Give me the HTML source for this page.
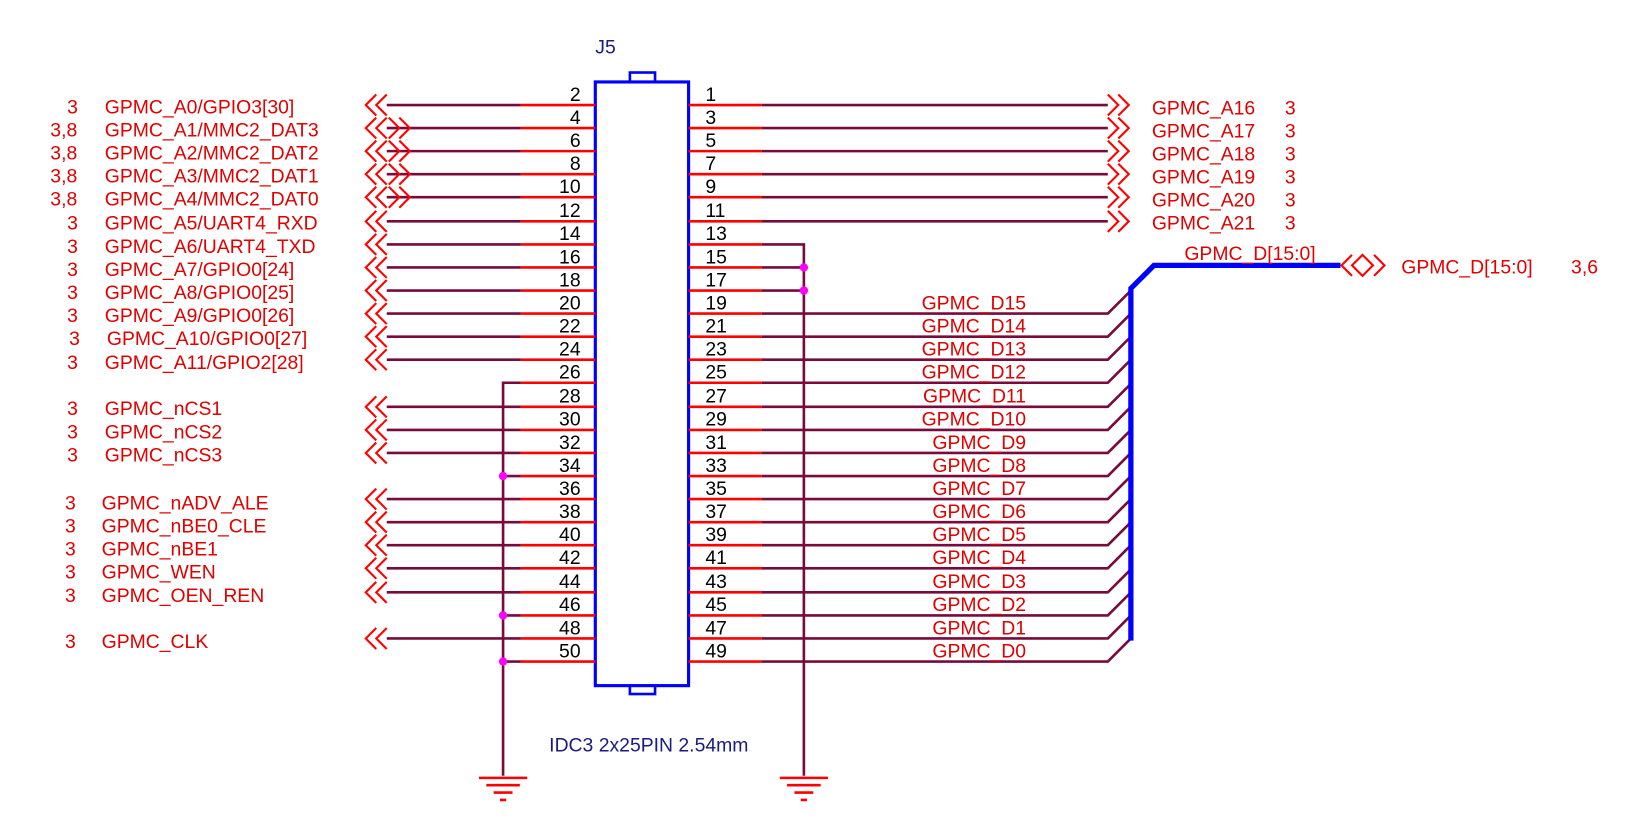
<!DOCTYPE html>
<html><head><meta charset="utf-8"><style>
html,body{margin:0;padding:0;background:#fff;}
svg{display:block;}
text{font-family:"Liberation Sans",Arial,sans-serif;font-size:18.5px;}
.r{fill:#e00000}.k{fill:#000}.b{fill:#1a1a80}
</style></head><body>
<svg width="1635" height="820" viewBox="3 0 1560 782" xmlns="http://www.w3.org/2000/svg">
<rect x="0" width="1570" height="782" fill="#fff"/>
<!-- box -->
<rect x="571" y="78" width="89" height="576" fill="none" stroke="#0000ff" stroke-width="3"/>
<rect x="604" y="69" width="24" height="9" fill="none" stroke="#0000ff" stroke-width="2.5"/>
<rect x="604" y="654" width="24" height="8" fill="none" stroke="#0000ff" stroke-width="2.5"/>
<text x="571" y="51" class="b">J5</text>
<text x="527" y="717" class="b">IDC3 2x25PIN 2.54mm</text>

<!-- maroon wires -->
<g stroke="#780a3c" stroke-width="2.5" fill="none">
<path d="M372 100H500M372 122H500M372 144H500M372 166H500M372 188H500M372 211H500M372 233H500M372 255H500M372 277H500M372 299H500M372 321H500M372 343H500M372 388H500M372 410H500M372 432H500M372 476H500M372 498H500M372 520H500M372 542H500M372 565H500M372 609H500"/>
<path d="M500 365H483V740M483 454H500M483 587H500M483 631H500"/>
<path d="M730 100H1060M730 122H1060M730 144H1060M730 166H1060M730 188H1060M730 211H1060"/>
<path d="M730 233H770V740M730 255H770M730 277H770"/>
<path d="M730 299H1060L1082 277M730 321H1060L1082 299M730 343H1060L1082 321M730 365H1060L1082 343M730 388H1060L1082 366M730 410H1060L1082 388M730 432H1060L1082 410M730 454H1060L1082 432M730 476H1060L1082 454M730 498H1060L1082 476M730 520H1060L1082 498M730 542H1060L1082 520M730 565H1060L1082 543M730 587H1060L1082 565M730 609H1060L1082 587M730 631H1060L1082 609"/>
</g>
<!-- red pins -->
<g stroke="#ff0000" stroke-width="2.5">
<path d="M500 100H571M500 122H571M500 144H571M500 166H571M500 188H571M500 211H571M500 233H571M500 255H571M500 277H571M500 299H571M500 321H571M500 343H571M500 365H571M500 388H571M500 410H571M500 432H571M500 454H571M500 476H571M500 498H571M500 520H571M500 542H571M500 565H571M500 587H571M500 609H571M500 631H571"/>
<path d="M660 100H730M660 122H730M660 144H730M660 166H730M660 188H730M660 211H730M660 233H730M660 255H730M660 277H730M660 299H730M660 321H730M660 343H730M660 365H730M660 388H730M660 410H730M660 432H730M660 454H730M660 476H730M660 498H730M660 520H730M660 542H730M660 565H730M660 587H730M660 609H730M660 631H730"/>
</g>
<!-- bus -->
<path d="M1082 611V275L1104 253H1282" stroke="#0000ff" stroke-width="5" fill="none"/>
<!-- junction dots -->
<g fill="#ff00ff"><circle cx="770" cy="255" r="4"/><circle cx="770" cy="277" r="4"/><circle cx="483" cy="454" r="4"/><circle cx="483" cy="587" r="4"/><circle cx="483" cy="631" r="4"/></g>
<!-- grounds -->
<g stroke="#ff0000" stroke-width="2.5">
<path d="M460 742H506M467 749H499M474 756H492M480 763H486"/>
<path d="M747 742H793M754 749H786M761 756H779M767 763H773"/>
</g>
<!-- left connectors -->
<g stroke="#ff0000" stroke-width="2" fill="none">
<path d="M362 90L352 100L362 110M372 90L362 100L372 110"/>
<path d="M362 112L352 122L362 132M372 112L362 122L372 132M384 112L394 122L384 132M374 112L384 122L374 132"/>
<path d="M362 134L352 144L362 154M372 134L362 144L372 154M384 134L394 144L384 154M374 134L384 144L374 154"/>
<path d="M362 156L352 166L362 176M372 156L362 166L372 176M384 156L394 166L384 176M374 156L384 166L374 176"/>
<path d="M362 178L352 188L362 198M372 178L362 188L372 198M384 178L394 188L384 198M374 178L384 188L374 198"/>
<path d="M362 201L352 211L362 221M372 201L362 211L372 221"/>
<path d="M362 223L352 233L362 243M372 223L362 233L372 243"/>
<path d="M362 245L352 255L362 265M372 245L362 255L372 265"/>
<path d="M362 267L352 277L362 287M372 267L362 277L372 287"/>
<path d="M362 289L352 299L362 309M372 289L362 299L372 309"/>
<path d="M362 311L352 321L362 331M372 311L362 321L372 331"/>
<path d="M362 333L352 343L362 353M372 333L362 343L372 353"/>
<path d="M362 378L352 388L362 398M372 378L362 388L372 398"/>
<path d="M362 400L352 410L362 420M372 400L362 410L372 420"/>
<path d="M362 422L352 432L362 442M372 422L362 432L372 442"/>
<path d="M362 466L352 476L362 486M372 466L362 476L372 486"/>
<path d="M362 488L352 498L362 508M372 488L362 498L372 508"/>
<path d="M362 510L352 520L362 530M372 510L362 520L372 530"/>
<path d="M362 532L352 542L362 552M372 532L362 542L372 552"/>
<path d="M362 555L352 565L362 575M372 555L362 565L372 575"/>
<path d="M362 599L352 609L362 619M372 599L362 609L372 619"/>
<!-- right connectors -->
<path d="M1060 90L1070 100L1060 110M1070 90L1080 100L1070 110"/>
<path d="M1060 112L1070 122L1060 132M1070 112L1080 122L1070 132"/>
<path d="M1060 134L1070 144L1060 154M1070 134L1080 144L1070 154"/>
<path d="M1060 156L1070 166L1060 176M1070 156L1080 166L1070 176"/>
<path d="M1060 178L1070 188L1060 198M1070 178L1080 188L1070 198"/>
<path d="M1060 201L1070 211L1060 221M1070 201L1080 211L1070 221"/>
<path d="M1293 243L1283 253L1293 263M1314 243L1324 253L1314 263M1303 243L1293 253L1303 263L1313 253Z"/>
</g>
<!-- left pin numbers -->
<g class="k" text-anchor="end">
<text x="557" y="96">2</text><text x="557" y="118">4</text><text x="557" y="140">6</text><text x="557" y="162">8</text><text x="557" y="184">10</text><text x="557" y="207">12</text><text x="557" y="229">14</text><text x="557" y="251">16</text><text x="557" y="273">18</text><text x="557" y="295">20</text><text x="557" y="317">22</text><text x="557" y="339">24</text><text x="557" y="361">26</text><text x="557" y="384">28</text><text x="557" y="406">30</text><text x="557" y="428">32</text><text x="557" y="450">34</text><text x="557" y="472">36</text><text x="557" y="494">38</text><text x="557" y="516">40</text><text x="557" y="538">42</text><text x="557" y="561">44</text><text x="557" y="583">46</text><text x="557" y="605">48</text><text x="557" y="627">50</text>
</g>
<g class="k">
<text x="676" y="96">1</text><text x="676" y="118">3</text><text x="676" y="140">5</text><text x="676" y="162">7</text><text x="676" y="184">9</text><text x="676" y="207">11</text><text x="676" y="229">13</text><text x="676" y="251">15</text><text x="676" y="273">17</text><text x="676" y="295">19</text><text x="676" y="317">21</text><text x="676" y="339">23</text><text x="676" y="361">25</text><text x="676" y="384">27</text><text x="676" y="406">29</text><text x="676" y="428">31</text><text x="676" y="450">33</text><text x="676" y="472">35</text><text x="676" y="494">37</text><text x="676" y="516">39</text><text x="676" y="538">41</text><text x="676" y="561">43</text><text x="676" y="583">45</text><text x="676" y="605">47</text><text x="676" y="627">49</text>
</g>
<!-- left labels -->
<g class="r">
<text x="67" y="108">3</text><text x="103" y="108">GPMC_A0/GPIO3[30]</text>
<text x="51" y="130">3,8</text><text x="103" y="130">GPMC_A1/MMC2_DAT3</text>
<text x="51" y="152">3,8</text><text x="103" y="152">GPMC_A2/MMC2_DAT2</text>
<text x="51" y="174">3,8</text><text x="103" y="174">GPMC_A3/MMC2_DAT1</text>
<text x="51" y="196">3,8</text><text x="103" y="196">GPMC_A4/MMC2_DAT0</text>
<text x="67" y="219">3</text><text x="103" y="219">GPMC_A5/UART4_RXD</text>
<text x="67" y="241">3</text><text x="103" y="241">GPMC_A6/UART4_TXD</text>
<text x="67" y="263">3</text><text x="103" y="263">GPMC_A7/GPIO0[24]</text>
<text x="67" y="285">3</text><text x="103" y="285">GPMC_A8/GPIO0[25]</text>
<text x="67" y="307">3</text><text x="103" y="307">GPMC_A9/GPIO0[26]</text>
<text x="69" y="329">3</text><text x="105" y="329">GPMC_A10/GPIO0[27]</text>
<text x="67" y="352">3</text><text x="103" y="352">GPMC_A11/GPIO2[28]</text>
<text x="67" y="396">3</text><text x="103" y="396">GPMC_nCS1</text>
<text x="67" y="418">3</text><text x="103" y="418">GPMC_nCS2</text>
<text x="67" y="440">3</text><text x="103" y="440">GPMC_nCS3</text>
<text x="65" y="486">3</text><text x="100" y="486">GPMC_nADV_ALE</text>
<text x="65" y="508">3</text><text x="100" y="508">GPMC_nBE0_CLE</text>
<text x="65" y="530">3</text><text x="100" y="530">GPMC_nBE1</text>
<text x="65" y="552">3</text><text x="100" y="552">GPMC_WEN</text>
<text x="65" y="574">3</text><text x="100" y="574">GPMC_OEN_REN</text>
<text x="65" y="618">3</text><text x="100" y="618">GPMC_CLK</text>
</g>
<!-- right labels -->
<g class="r">
<text x="1102" y="109">GPMC_A16</text><text x="1229" y="109">3</text>
<text x="1102" y="131">GPMC_A17</text><text x="1229" y="131">3</text>
<text x="1102" y="153">GPMC_A18</text><text x="1229" y="153">3</text>
<text x="1102" y="175">GPMC_A19</text><text x="1229" y="175">3</text>
<text x="1102" y="197">GPMC_A20</text><text x="1229" y="197">3</text>
<text x="1102" y="219">GPMC_A21</text><text x="1229" y="219">3</text>
<text x="1133" y="248">GPMC_D[15:0]</text>
<text x="1340" y="261">GPMC_D[15:0]</text><text x="1502" y="261">3,6</text>
</g>
<g class="r" text-anchor="end">
<text x="982" y="295">GPMC_D15</text><text x="982" y="317">GPMC_D14</text><text x="982" y="339">GPMC_D13</text><text x="982" y="361">GPMC_D12</text><text x="982" y="384">GPMC_D11</text><text x="982" y="406">GPMC_D10</text><text x="982" y="428">GPMC_D9</text><text x="982" y="450">GPMC_D8</text><text x="982" y="472">GPMC_D7</text><text x="982" y="494">GPMC_D6</text><text x="982" y="516">GPMC_D5</text><text x="982" y="538">GPMC_D4</text><text x="982" y="561">GPMC_D3</text><text x="982" y="583">GPMC_D2</text><text x="982" y="605">GPMC_D1</text><text x="982" y="627">GPMC_D0</text>
</g>
</svg>
</body></html>
